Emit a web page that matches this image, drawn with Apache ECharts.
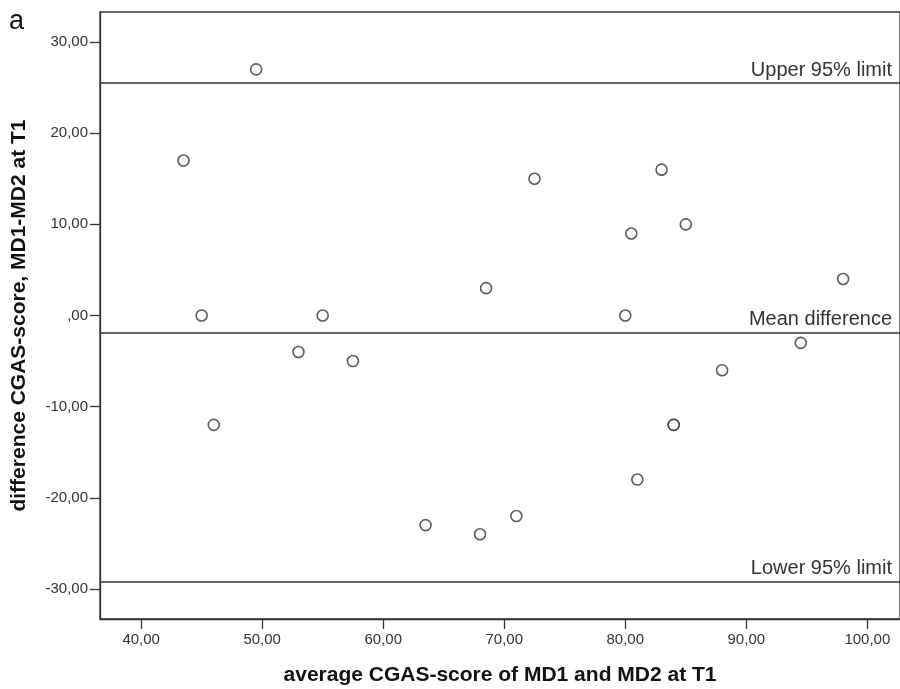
<!DOCTYPE html>
<html>
<head>
<meta charset="utf-8">
<script src="https://cdn.jsdelivr.net/npm/echarts@6/dist/echarts.min.js"></script>
<style>
  html, body { margin: 0; padding: 0; background: #fff; }
  #main { width: 900px; height: 689px; }
</style>
</head>
<body>
<div id="main"></div>
<script>
// average score (x) and difference (y) for each child
var avgScore = [49.5, 43.5, 45, 55, 53, 57.5, 46, 63.5, 72.5, 83, 85, 80.5, 68.5, 80, 98, 94.5, 88, 84, 84, 81, 71, 68];
var diffScore = [27, 17, 0, 0, -4, -5, -12, -23, 15, 16, 10, 9, 3, 0, 4, -3, -6, -12, -12, -18, -22, -24];

// Bland-Altman reference lines
var limitNames = ['Upper 95% limit', 'Mean difference', 'Lower 95% limit'];
var limitValues = [25.5, -1.85, -29.2];

var xTicks = [40, 50, 60, 70, 80, 90, 100];
var yTicks = [-30, -20, -10, 0, 10, 20, 30];

var points = avgScore.map(function (x, i) { return [x, diffScore[i]]; });

function commaFmt(v) {
    var s = Math.abs(v).toFixed(2).replace('.', ',');
    if (Math.abs(v) < 1) s = s.replace(/^0/, '');
    return (v < 0 ? '-' : '') + s;
}

var myChart = echarts.init(document.getElementById('main'));

var option = {
    backgroundColor: '#fff',
    animation: false,
    grid: {
        left: 100, top: 12, right: 0, bottom: 70,
        outerBoundsMode: 'none',
        containLabel: false,
        show: true, borderColor: '#333', borderWidth: 1.3
    },
    graphic: [{
        type: 'text', left: 9, top: 8,
        style: { text: 'a', font: '27px "Liberation Sans", Arial', fill: '#111' }
    }],
    xAxis: {
        type: 'value',
        min: 36.6, max: 102.7,
        name: 'average CGAS-score of MD1 and MD2 at T1',
        nameLocation: 'middle',
        nameGap: 46,
        nameTextStyle: { fontFamily: '"Liberation Sans", Arial', fontWeight: 'bold', fontSize: 21, color: '#111' },
        splitLine: { show: false },
        axisLine: { onZero: false, lineStyle: { color: '#333', width: 1.3 } },
        axisTick: { show: true, length: 10, lineStyle: { color: '#333', width: 1.3 }, customValues: xTicks },
        axisLabel: {
            fontFamily: '"Liberation Sans", Arial', fontSize: 15, color: '#333', margin: 13,
            customValues: xTicks,
            formatter: commaFmt
        }
    },
    yAxis: {
        type: 'value',
        min: -33.3, max: 33.3,
        name: 'difference CGAS-score, MD1-MD2 at T1',
        nameLocation: 'middle',
        nameGap: 70,
        nameTextStyle: { fontFamily: '"Liberation Sans", Arial', fontWeight: 'bold', fontSize: 21, color: '#111' },
        splitLine: { show: false },
        axisLine: { show: true, lineStyle: { color: '#333', width: 1.3 } },
        axisTick: { show: true, length: 10, lineStyle: { color: '#333', width: 1.3 }, customValues: yTicks },
        axisLabel: {
            fontFamily: '"Liberation Sans", Arial', fontSize: 15, color: '#333', margin: 12,
            customValues: yTicks,
            formatter: commaFmt
        }
    },
    series: [{
        type: 'scatter',
        data: points,
        symbol: 'circle',
        symbolSize: 11,
        itemStyle: { color: '#fff', borderColor: '#333', borderWidth: 1.6 },
        markLine: {
            silent: true,
            symbol: 'none',
            animation: false,
            lineStyle: { color: '#333', width: 1.5, type: 'solid' },
            label: {
                position: 'insideEndTop',
                distance: [8, 3],
                fontFamily: '"Liberation Sans", Arial',
                fontSize: 20,
                color: '#333'
            },
            data: limitValues.map(function (v, i) {
                return { yAxis: v, label: { formatter: limitNames[i] } };
            })
        }
    }]
};
myChart.setOption(option);
</script>
</body>
</html>
